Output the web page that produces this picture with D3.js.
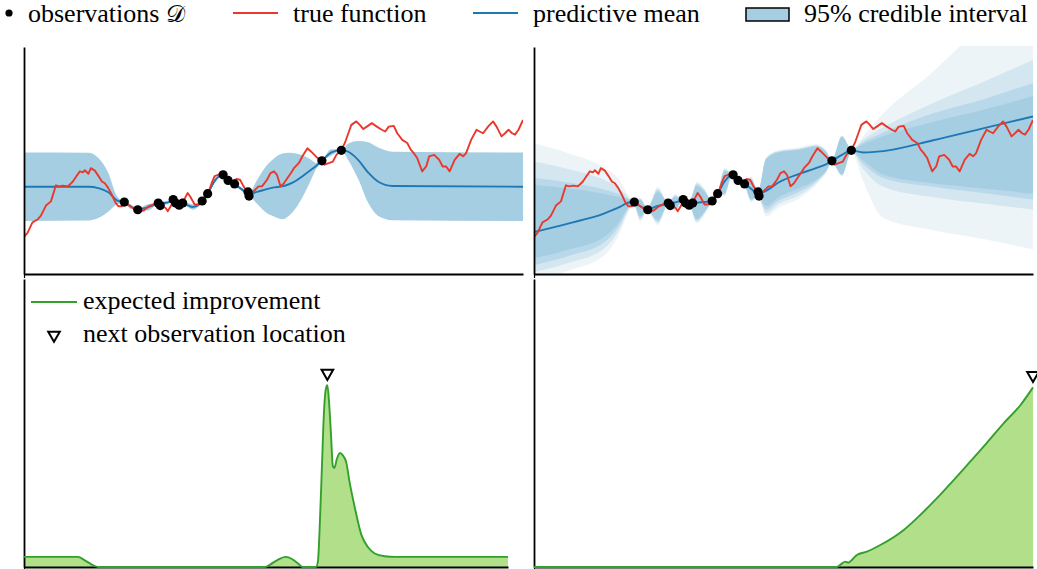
<!DOCTYPE html>
<html>
<head>
<meta charset="utf-8">
<script src="https://cdn.jsdelivr.net/npm/d3@7"></script>
<style>
  html, body { margin: 0; padding: 0; background: #fff; }
  svg { display: block; }
</style>
</head>
<body>
<svg id="fig" width="1037" height="569"></svg>
<script>
// ---- true objective function f(x) ----
const fX = [0,0.7,1.7,2.7,3.4,4.4,5.4,6.4,7.1,7.8,8.8,9.8,10.5,11.2,11.8,12.2,12.9,13.4,14.2,14.9,
  15.6,16.2,16.9,17.6,18.3,18.9,19.6,20.3,21.3,22.3,23.0,24.0,25.0,26.0,27.1,27.7,28.4,28.8,29.4,30.1,
  30.8,31.5,32.1,32.8,33.3,34.2,34.8,35.5,36.2,36.9,37.6,38.2,38.9,39.6,40.3,40.9,41.9,42.6,43.3,44.0,
  45.0,46.0,47.0,47.7,48.7,49.4,50.1,50.7,51.4,52.1,52.8,53.5,54.1,55.1,55.8,56.8,57.5,58.5,59.5,60.2,
  61.2,61.9,62.6,63.6,64.3,65.0,65.6,66.6,67.3,68.0,68.7,69.7,70.7,71.7,72.4,73.1,74.1,74.8,75.8,76.8,
  77.5,78.1,78.8,79.8,80.6,81.2,82.2,83.2,83.9,84.6,85.3,86.3,87.3,88.0,88.6,89.6,90.7,91.3,92.0,93.0,
  94.0,94.7,95.7,96.4,97.1,97.8,98.4,99.1,100];
const fY = [-1.44,-1.32,-1.02,-0.94,-0.83,-0.54,-0.42,0.04,0.01,0.03,0.01,0.15,0.30,0.44,0.41,0.47,0.37,0.53,0.46,0.31,
  0.15,0.10,-0.04,-0.23,-0.45,-0.56,-0.56,-0.47,-0.56,-0.66,-0.70,-0.68,-0.56,-0.51,-0.47,-0.56,-0.61,-0.70,-0.56,-0.37,
  -0.47,-0.37,-0.37,-0.18,-0.28,-0.51,-0.51,-0.47,-0.28,-0.18,0.10,0.30,0.34,0.34,0.28,0.20,0.15,0.22,0.20,0.01,
  -0.20,-0.13,0.01,0.01,0.20,0.39,0.44,0.34,0.01,0.10,0.25,0.39,0.53,0.68,0.87,1.10,1.01,0.87,0.72,0.63,
  0.68,0.72,0.91,1.06,1.25,1.53,1.77,1.87,1.77,1.65,1.72,1.82,1.72,1.63,1.58,1.72,1.74,1.53,1.34,1.25,
  1.06,0.96,0.82,0.44,0.58,0.87,0.91,0.77,0.58,0.58,0.44,0.77,0.94,0.87,0.96,1.34,1.63,1.58,1.53,1.72,
  1.87,1.72,1.44,1.53,1.63,1.53,1.49,1.63,1.91];

// ---- observations D ----
const obsX = [20.1,22.8,26.9,27.3,29.9,30.4,31.1,31.8,35.7,36.8,39.9,40.9,42.2,44.9,45.1,59.7,63.6];
const obsY = [-0.44,-0.66,-0.47,-0.54,-0.37,-0.47,-0.53,-0.47,-0.41,-0.20,0.34,0.18,0.08,-0.15,-0.27,0.74,1.04];

// ---- GP posterior, fixed hyperparameters (mean and 95% half-width) ----
const gpX = [0,12.9,14.9,16.9,18.6,20.1,21.4,22.8,24.8,26.9,28.5,29.9,31.1,32.6,33.8,35.7,36.8,38.4,39.9,40.9,
  42.2,43.6,45.0,46.7,48.7,50.1,51.8,53.1,54.5,55.8,57.2,58.6,59.7,61.6,63.6,65.0,67.0,69.0,71.0,73.8,100];
const gpMean = [0,0,-0.04,-0.16,-0.39,-0.45,-0.57,-0.65,-0.59,-0.48,-0.46,-0.40,-0.48,-0.52,-0.58,-0.43,-0.21,0.20,0.33,0.20,
  0.07,-0.07,-0.21,-0.15,-0.07,-0.02,0.01,0.07,0.17,0.30,0.45,0.60,0.74,0.98,1.05,1.00,0.76,0.40,0.14,0.02,0];
const gpHalf = [0.98,0.97,0.86,0.55,0.12,0.02,0.07,0.02,0.09,0.02,0.05,0.02,0.02,0.05,0.08,0.02,0.02,0.06,0.02,0.02,
  0.02,0.05,0.02,0.34,0.69,0.83,0.94,0.90,0.78,0.60,0.35,0.08,0.02,0.09,0.02,0.24,0.55,0.87,0.98,0.98,0.98];

// ---- GP posterior marginalised over hyperparameters (mean and nested interval layers) ----
const mX = [0,7,14,17.2,18.8,19.9,21.3,22.7,24.8,26.9,28.3,29.7,31.1,32.6,34.2,35.6,36.8,38.2,39.6,41.0,
  42.2,43.5,44.9,46.5,49,53,56.5,58.5,59.7,61.7,63.6,66,70,80,90,100];
const mMean = [-1.30,-1.05,-0.77,-0.58,-0.46,-0.44,-0.56,-0.64,-0.55,-0.48,-0.45,-0.40,-0.47,-0.46,-0.44,-0.41,-0.20,0.15,0.33,0.18,
  0.08,-0.06,-0.21,-0.12,0.12,0.36,0.53,0.64,0.74,0.91,1.04,0.98,1.02,1.33,1.67,2.01];
// layers ordered from widest (lightest) to narrowest (darkest)
const mLower = [
  [-2.7,-2.4,-1.98,-1.32,-0.76,-0.47,-1.0,-0.67,-1.1,-0.51,-0.71,-0.43,-0.5,-1.04,-0.8,-0.44,-0.23,-0.28,0.30,0.15,
   0.05,-0.45,-0.29,-0.85,-0.6,-0.35,0.05,0.38,0.71,0.3,1.01,0.15,-0.9,-1.25,-1.5,-1.8],
  [-2.45,-2.18,-1.78,-1.2,-0.7,-0.47,-0.95,-0.67,-1.05,-0.51,-0.68,-0.43,-0.5,-1.0,-0.76,-0.44,-0.23,-0.24,0.30,0.15,
   0.05,-0.41,-0.29,-0.75,-0.5,-0.25,0.1,0.41,0.71,0.32,1.01,0.5,0.0,-0.3,-0.48,-0.66],
  [-2.25,-1.98,-1.6,-1.08,-0.65,-0.47,-0.9,-0.67,-1.0,-0.51,-0.65,-0.43,-0.5,-0.96,-0.73,-0.44,-0.23,-0.21,0.30,0.15,
   0.05,-0.38,-0.29,-0.65,-0.4,-0.15,0.15,0.43,0.71,0.34,1.01,0.65,0.25,0.0,-0.18,-0.37],
  [-2.05,-1.8,-1.45,-0.98,-0.6,-0.47,-0.85,-0.67,-0.95,-0.51,-0.62,-0.43,-0.5,-0.92,-0.7,-0.44,-0.23,-0.18,0.30,0.15,
   0.05,-0.35,-0.29,-0.55,-0.3,-0.05,0.2,0.45,0.71,0.35,1.01,0.75,0.35,0.1,-0.05,-0.2]
];
const mUpper = [
  [1.25,0.95,0.55,0.18,-0.22,-0.41,-0.32,-0.61,0.0,-0.45,-0.21,-0.37,-0.44,0.14,-0.05,-0.38,-0.17,0.55,0.36,0.21,
   0.11,0.3,-0.13,0.84,1.04,1.12,1.22,1.05,0.77,1.47,1.07,1.45,2.1,3.3,4.7,6.2],
  [0.72,0.5,0.2,-0.05,-0.28,-0.41,-0.34,-0.61,-0.05,-0.45,-0.24,-0.37,-0.44,0.1,-0.09,-0.38,-0.17,0.51,0.36,0.21,
   0.11,0.26,-0.13,0.82,1.02,1.09,1.19,1.03,0.77,1.45,1.07,1.35,1.7,2.4,3.0,3.63],
  [0.25,0.12,-0.08,-0.22,-0.33,-0.41,-0.36,-0.61,-0.1,-0.45,-0.27,-0.37,-0.44,0.06,-0.12,-0.38,-0.17,0.48,0.36,0.21,
   0.11,0.23,-0.13,0.8,1.0,1.07,1.17,1.02,0.77,1.44,1.07,1.28,1.55,2.1,2.5,2.97],
  [0.05,-0.05,-0.2,-0.3,-0.36,-0.41,-0.38,-0.61,-0.15,-0.45,-0.3,-0.37,-0.44,0.02,-0.15,-0.38,-0.17,0.45,0.36,0.21,
   0.11,0.2,-0.13,0.78,0.98,1.05,1.15,1.0,0.77,1.42,1.07,1.22,1.45,1.85,2.2,2.6]
];
const layerColors = ["#edf4f8", "#d4e6f0", "#b9d8ea", "#a6cee3"];

// ---- expected improvement for each model ----
const eiX1 = [0,10.8,12.2,13.5,14.9,48.3,49.4,50.7,52.4,53.8,55.1,55.8,58.5,58.9,59.3,59.7,60.1,60.5,60.8,61.1,
  61.5,61.9,62.2,62.7,63.3,63.9,64.6,65.2,66.3,67.6,69.0,70.3,72.3,74.4,97];
const eiY1 = [0.056,0.056,0.037,0.015,0,0,0.015,0.037,0.056,0.043,0.015,0,0,0.03,0.25,0.55,0.85,0.99,1.01,0.93,
  0.75,0.56,0.55,0.60,0.633,0.62,0.58,0.48,0.33,0.18,0.108,0.075,0.06,0.056,0.056];
const eiX2 = [0,60.7,61.5,62.4,63.0,63.7,64.7,66.7,69.4,74.1,77.4,80.7,84.1,87.4,90.8,94.1,97.5,100];
const eiY2 = [0,0,0.015,0.03,0.024,0.039,0.067,0.085,0.122,0.206,0.289,0.381,0.483,0.585,0.691,0.798,0.9,0.998];

// ---- legend labels ----
const topLegend = ["observations ", "true function", "predictive mean", "95% credible interval"];
const eiLegend = ["expected improvement", "next observation location"];

const C = {
  red: "#e8392c", blue: "#1f78b4", band: "#a6cee3",
  green: "#33a02c", greenFill: "#b2df8a"
};
const SERIF = "'Liberation Serif', 'Times New Roman', Tinos, 'DejaVu Serif', serif";

const svg = d3.select("#fig");
const defs = svg.append("defs");

function makePanel(box, xDom, yDom, id) {
  const x = d3.scaleLinear().domain(xDom).range([box.l, box.r]);
  const y = d3.scaleLinear().domain(yDom).range([box.b, box.t]);
  defs.append("clipPath").attr("id", id).append("rect")
    .attr("x", box.l).attr("y", box.t - 1)
    .attr("width", box.r - box.l).attr("height", box.b - box.t + 1);
  const g = svg.append("g");
  const plot = g.append("g").attr("clip-path", `url(#${id})`);
  return { x, y, g, plot, box };
}

function drawSpines(p) {
  p.g.append("g").attr("transform", `translate(0,${p.box.b})`)
    .call(d3.axisBottom(p.x).tickValues([p.x.domain()[0]]).tickSize(4).tickFormat(""))
    .call(s => s.select(".domain").remove())
    .selectAll("line").attr("stroke", "#000").attr("stroke-width", 1.2);
  p.g.append("g").attr("transform", `translate(${p.box.l},0)`)
    .call(d3.axisLeft(p.y).tickValues([]).tickSizeOuter(0))
    .select(".domain").attr("stroke", "#000").attr("stroke-width", 1.8);
  p.g.append("g").attr("transform", `translate(0,${p.box.b})`)
    .call(d3.axisBottom(p.x).tickValues([]).tickSizeOuter(0))
    .select(".domain").attr("stroke", "#000").attr("stroke-width", 1.8);
}

const topY = [-2.5, 4.0];
const tl = makePanel({ l: 24, r: 523, t: 47, b: 274 }, [0, 100], topY, "clip-tl");
const tr = makePanel({ l: 534, r: 1033, t: 47, b: 274 }, [0, 100], topY, "clip-tr");
const bl = makePanel({ l: 24, r: 508, t: 279, b: 567 }, [0, 97], [0, 1.6], "clip-bl");
const br = makePanel({ l: 534, r: 1033, t: 279, b: 567 }, [0, 100], [0, 1.6], "clip-br");

function drawTruth(p) {
  const line = d3.line().x(i => p.x(fX[i])).y(i => p.y(fY[i]));
  p.plot.append("path").attr("d", line(d3.range(fX.length)))
    .attr("fill", "none").attr("stroke", C.red).attr("stroke-width", 1.9)
    .attr("stroke-linejoin", "round");
}
function drawMean(p, xs, ys) {
  const line = d3.line().curve(d3.curveMonotoneX).x(i => p.x(xs[i])).y(i => p.y(ys[i]));
  p.plot.append("path").attr("d", line(d3.range(xs.length)))
    .attr("fill", "none").attr("stroke", C.blue).attr("stroke-width", 1.9);
}
function drawObs(p) {
  p.g.append("g").selectAll("circle").data(d3.range(obsX.length)).join("circle")
    .attr("cx", i => p.x(obsX[i])).attr("cy", i => p.y(obsY[i])).attr("r", 4.6)
    .attr("fill", "#000");
}

// top left: single GP
{
  const area = d3.area().curve(d3.curveMonotoneX)
    .x(i => tl.x(gpX[i]))
    .y0(i => tl.y(gpMean[i] - gpHalf[i]))
    .y1(i => tl.y(gpMean[i] + gpHalf[i]));
  tl.plot.append("path").attr("d", area(d3.range(gpX.length))).attr("fill", C.band);
  drawMean(tl, gpX, gpMean);
  drawTruth(tl);
  drawObs(tl);
  drawSpines(tl);
}

// top right: marginalised GP with layered intervals
{
  mLower.forEach((lo, k) => {
    const hi = mUpper[k];
    const area = d3.area().curve(d3.curveMonotoneX)
      .x(i => tr.x(mX[i])).y0(i => tr.y(lo[i])).y1(i => tr.y(hi[i]));
    tr.plot.append("path").attr("d", area(d3.range(mX.length))).attr("fill", layerColors[k]);
  });
  drawMean(tr, mX, mMean);
  drawTruth(tr);
  drawObs(tr);
  drawSpines(tr);
}

// bottom: expected improvement
const tri = d3.symbol().type(d3.symbolTriangle).size(58);
function drawEI(p, xs, ys) {
  const idx = d3.range(xs.length);
  const area = d3.area().curve(d3.curveMonotoneX)
    .x(i => p.x(xs[i])).y0(p.y(0)).y1(i => p.y(ys[i]));
  const line = d3.line().curve(d3.curveMonotoneX)
    .x(i => p.x(xs[i])).y(i => p.y(ys[i]));
  p.plot.append("path").attr("d", area(idx)).attr("fill", C.greenFill);
  drawSpines(p);
  p.g.append("path").attr("d", line(idx)).attr("fill", "none")
    .attr("stroke", C.green).attr("stroke-width", 1.9);
  const m = d3.maxIndex(ys);
  p.g.append("path").attr("d", tri())
    .attr("transform", `translate(${p.x(xs[m])},${p.y(ys[m]) - 12}) rotate(180)`)
    .attr("fill", "#fff").attr("stroke", "#000").attr("stroke-width", 2);
}
drawEI(bl, eiX1, eiY1);
drawEI(br, eiX2, eiY2);

// legends
const fs = 26;
const lg = svg.append("g").attr("font-size", fs).attr("font-family", SERIF);
lg.append("circle").attr("cx", 9).attr("cy", 13).attr("r", 3.6).attr("fill", "#000");
const t0 = lg.append("text").attr("x", 28).attr("y", 22);
t0.append("tspan").text(topLegend[0]);
t0.append("tspan").attr("font-family", "'DejaVu Serif', 'DejaVu Sans', serif").attr("font-size", 24).text("\u{1D49F}");
lg.append("line").attr("x1", 233).attr("x2", 278).attr("y1", 13).attr("y2", 13)
  .attr("stroke", C.red).attr("stroke-width", 2);
lg.append("text").attr("x", 293).attr("y", 22).text(topLegend[1]);
lg.append("line").attr("x1", 473).attr("x2", 518).attr("y1", 13).attr("y2", 13)
  .attr("stroke", C.blue).attr("stroke-width", 2);
lg.append("text").attr("x", 533).attr("y", 22).text(topLegend[2]);
lg.append("rect").attr("x", 746).attr("y", 8).attr("width", 43).attr("height", 13)
  .attr("fill", C.band).attr("stroke", "#000").attr("stroke-width", 1.5);
lg.append("text").attr("x", 804).attr("y", 22).text(topLegend[3]);

const lg2 = svg.append("g").attr("font-size", fs).attr("font-family", SERIF);
lg2.append("line").attr("x1", 31).attr("x2", 77).attr("y1", 302).attr("y2", 302)
  .attr("stroke", C.green).attr("stroke-width", 2);
lg2.append("text").attr("x", 83).attr("y", 309).text(eiLegend[0]);
lg2.append("path").attr("d", tri()).attr("transform", "translate(54,335) rotate(180)")
  .attr("fill", "#fff").attr("stroke", "#000").attr("stroke-width", 2);
lg2.append("text").attr("x", 83).attr("y", 342).text(eiLegend[1]);
</script>
</body>
</html>
